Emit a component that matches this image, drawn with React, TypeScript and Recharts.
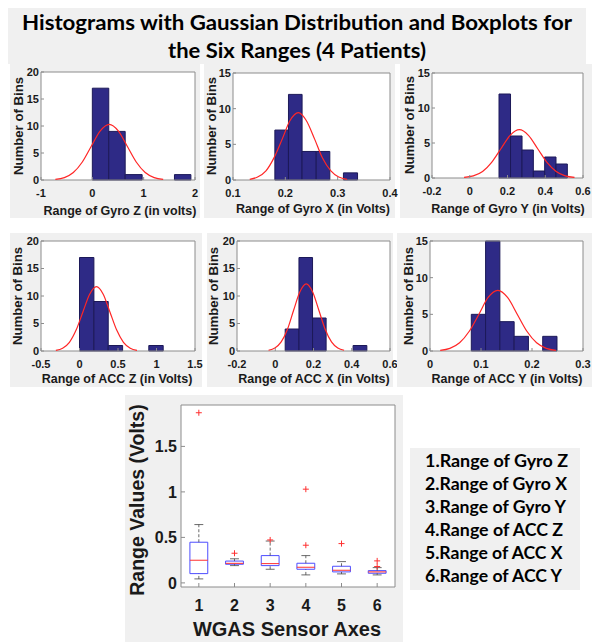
import React from 'react';
import { ComposedChart, Line, Scatter, XAxis, YAxis, ReferenceArea, ReferenceLine } from 'recharts';

// histogram bins (lo edge, hi edge, count), only non-empty bins
const gyroZLo = [0, 0.32, 0.64, 1.6];
const gyroZHi = [0.32, 0.64, 0.97, 1.92];
const gyroZCounts = [17, 9, 1, 1];
const gyroZFitX = [-0.72, -0.545, -0.37, -0.195, -0.02, 0.155, 0.33, 0.505, 0.68, 0.855, 1.03, 1.205, 1.38];
const gyroZFitY = [0.11, 0.45, 1.39, 3.34, 6.25, 9.09, 10.3, 9.09, 6.25, 3.34, 1.39, 0.45, 0.11];

const gyroXLo = [0.18, 0.206, 0.232, 0.259, 0.311];
const gyroXHi = [0.206, 0.232, 0.259, 0.285, 0.338];
const gyroXCounts = [7, 12, 4, 4, 1];
const gyroXFitX = [0.132, 0.147, 0.163, 0.178, 0.194, 0.209, 0.225, 0.24, 0.256, 0.271, 0.287, 0.302, 0.318];
const gyroXFitY = [0.1, 0.41, 1.28, 3.07, 5.73, 8.34, 9.45, 8.34, 5.73, 3.07, 1.28, 0.41, 0.1];

const gyroYLo = [0.155, 0.216, 0.277, 0.337, 0.397, 0.457];
const gyroYHi = [0.216, 0.277, 0.337, 0.397, 0.457, 0.517];
const gyroYCounts = [12, 6, 4, 1, 3, 2];
const gyroYFitX = [-0.03, 0.019, 0.068, 0.116, 0.165, 0.214, 0.263, 0.311, 0.36, 0.409, 0.458, 0.506, 0.555];
const gyroYFitY = [0.08, 0.3, 0.93, 2.24, 4.18, 6.09, 6.9, 6.09, 4.18, 2.24, 0.93, 0.3, 0.08];

const accZLo = [0, 0.187, 0.373, 0.9];
const accZHi = [0.187, 0.373, 0.56, 1.087];
const accZCounts = [17, 9, 1, 1];
const accZFitX = [-0.307, -0.219, -0.131, -0.044, 0.044, 0.132, 0.22, 0.308, 0.395, 0.483, 0.571, 0.659, 0.747];
const accZFitY = [0.13, 0.51, 1.58, 3.8, 7.1, 10.33, 11.7, 10.33, 7.1, 3.8, 1.58, 0.51, 0.13];

const accXLo = [0.052, 0.124, 0.195, 0.407];
const accXHi = [0.124, 0.195, 0.266, 0.479];
const accXCounts = [4, 17, 6, 1];
const accXFitX = [-0.035, -0.002, 0.031, 0.064, 0.096, 0.129, 0.162, 0.195, 0.228, 0.261, 0.294, 0.327, 0.36];
const accXFitY = [0.14, 0.54, 1.65, 3.96, 7.4, 10.77, 12.2, 10.77, 7.4, 3.96, 1.65, 0.54, 0.14];

const accYLo = [0.081, 0.109, 0.137, 0.165, 0.221];
const accYHi = [0.109, 0.137, 0.165, 0.193, 0.249];
const accYCounts = [5, 15, 4, 2, 2];
const accYFitX = [0.02, 0.039, 0.058, 0.077, 0.096, 0.114, 0.133, 0.152, 0.171, 0.19, 0.209, 0.228, 0.247];
const accYFitY = [0.09, 0.36, 1.12, 2.69, 5.02, 7.3, 8.27, 7.3, 5.02, 2.69, 1.12, 0.36, 0.09];

// boxplot stats per sensor axis
const boxCats = [1, 2, 3, 4, 5, 6];
const whiskerLo = [0.044, 0.19, 0.15, 0.088, 0.099, 0.088];
const q1 = [0.102, 0.205, 0.19, 0.15, 0.121, 0.106];
const median = [0.249, 0.215, 0.212, 0.172, 0.139, 0.121];
const q3 = [0.447, 0.24, 0.3, 0.216, 0.183, 0.135];
const whiskerHi = [0.641, 0.265, 0.46, 0.3, 0.234, 0.168];
const outlierX = [1, 2, 3, 4, 4, 5, 6, 6];
const outlierY = [1.87, 0.326, 0.472, 0.414, 1.03, 0.432, 0.18, 0.242];

const legendItems = [
  '1.Range of Gyro Z',
  '2.Range of Gyro X',
  '3.Range of Gyro Y',
  '4.Range of ACC Z',
  '5.Range of ACC X',
  '6.Range of ACC Y',
];

const GRAY = '#f0f0f0';
const FRAME = '#8c8c8c';
const INK = '#1a1a1a';
const AXFONT = 'Liberation Sans, Arial, sans-serif';
const TITLEFONT = 'Lato, "Open Sans", sans-serif';
const SPILL = 12; // room for tick labels that run past the grey panel

const panels = [
  { lo: gyroZLo, hi: gyroZHi, counts: gyroZCounts, fx: gyroZFitX, fy: gyroZFitY, xDomain: [-1, 2], xTicks: [-1, 0, 1, 2], yMax: 20, yTicks: [0, 5, 10, 15, 20],
    box: { left: 10, top: 64, w: 190, h: 154 }, plot: { left: 41, top: 72, right: 195, bottom: 180 },
    xLabel: 'Range of Gyro Z (in volts)', xl: [120, 215], yl: [18, 126] },
  { lo: gyroXLo, hi: gyroXHi, counts: gyroXCounts, fx: gyroXFitX, fy: gyroXFitY, xDomain: [0.1, 0.4], xTicks: [0.1, 0.2, 0.3, 0.4], yMax: 15, yTicks: [0, 5, 10, 15],
    box: { left: 204, top: 64, w: 191, h: 154 }, plot: { left: 233, top: 73, right: 390, bottom: 180 },
    xLabel: 'Range of Gyro X (in Volts)', xl: [313, 213], yl: [211, 126] },
  { lo: gyroYLo, hi: gyroYHi, counts: gyroYCounts, fx: gyroYFitX, fy: gyroYFitY, xDomain: [-0.2, 0.6], xTicks: [-0.2, 0, 0.2, 0.4, 0.6], yMax: 15, yTicks: [0, 5, 10, 15],
    box: { left: 400, top: 64, w: 192, h: 154 }, plot: { left: 432, top: 73, right: 583, bottom: 178 },
    xLabel: 'Range of Gyro Y (in Volts)', xl: [508, 213], yl: [409, 125] },
  { lo: accZLo, hi: accZHi, counts: accZCounts, fx: accZFitX, fy: accZFitY, xDomain: [-0.5, 1.5], xTicks: [-0.5, 0, 0.5, 1, 1.5], yMax: 20, yTicks: [0, 5, 10, 15, 20],
    box: { left: 10, top: 233, w: 192, h: 154 }, plot: { left: 41, top: 241, right: 195, bottom: 351 },
    xLabel: 'Range of ACC Z (in Volts)', xl: [117, 383], yl: [17, 296] },
  { lo: accXLo, hi: accXHi, counts: accXCounts, fx: accXFitX, fy: accXFitY, xDomain: [-0.2, 0.6], xTicks: [-0.2, 0, 0.2, 0.4, 0.6], yMax: 20, yTicks: [0, 5, 10, 15, 20],
    box: { left: 207, top: 233, w: 186, h: 154 }, plot: { left: 237, top: 241, right: 390, bottom: 351 },
    xLabel: 'Range of ACC X (in Volts)', xl: [314, 383], yl: [213, 296] },
  { lo: accYLo, hi: accYHi, counts: accYCounts, fx: accYFitX, fy: accYFitY, xDomain: [0, 0.3], xTicks: [0, 0.1, 0.2, 0.3], yMax: 15, yTicks: [0, 5, 10, 15],
    box: { left: 397, top: 233, w: 195, h: 154 }, plot: { left: 430, top: 241, right: 583, bottom: 351 },
    xLabel: 'Range of ACC Y (in Volts)', xl: [507, 383], yl: [408, 296] },
];

const tickStyle = { fill: INK, fontSize: 11, fontWeight: 700, fontFamily: AXFONT };

function Histogram({ p }: { p: any }) {
  const { box, plot } = p;
  const fit = p.fx.map((x: number, i: number) => ({ x, y: p.fy[i] }));
  const margin = { top: plot.top - box.top, right: box.left + box.w - plot.right + SPILL, bottom: 0, left: 0 };
  return (
    <div style={{ position: 'absolute', left: box.left, top: box.top, width: box.w, height: box.h, background: GRAY, overflow: 'visible' }}>
      <ComposedChart width={box.w + SPILL} height={box.h} data={fit} margin={margin}>
        <XAxis type="number" dataKey="x" domain={p.xDomain} ticks={p.xTicks} allowDataOverflow interval={0}
          height={box.top + box.h - plot.bottom} axisLine={false} tickSize={-3} tickMargin={12}
          tickLine={{ stroke: FRAME }} tick={tickStyle} />
        <XAxis xAxisId="top" orientation="top" type="number" domain={p.xDomain} ticks={p.xTicks} allowDataOverflow interval={0}
          height={0} axisLine={false} tickSize={-3} tickLine={{ stroke: FRAME }} tick={false} />
        <YAxis type="number" domain={[0, p.yMax]} ticks={p.yTicks} allowDataOverflow interval={0}
          width={plot.left - box.left} axisLine={false} tickSize={-3} tickMargin={5}
          tickLine={{ stroke: FRAME }} tick={tickStyle} />
        <YAxis yAxisId="right" orientation="right" type="number" domain={[0, p.yMax]} ticks={p.yTicks} allowDataOverflow interval={0}
          width={0} axisLine={false} tickSize={-3} tickLine={{ stroke: FRAME }} tick={false} />
        <ReferenceArea x1={p.xDomain[0]} x2={p.xDomain[1]} y1={0} y2={p.yMax} fill="#ffffff" fillOpacity={1} stroke="none" ifOverflow="visible" />
        {p.lo.map((lo: number, i: number) => (
          <ReferenceArea key={i} x1={lo} x2={p.hi[i]} y1={0} y2={p.counts[i]} fill="#2e2a86" fillOpacity={1}
            stroke="#1c1958" strokeWidth={1} />
        ))}
        <Line type="monotone" dataKey="y" stroke="#ff2626" strokeWidth={1.2} dot={false} isAnimationActive={false} />
        <ReferenceArea x1={p.xDomain[0]} x2={p.xDomain[1]} y1={0} y2={p.yMax} fill="none" stroke={FRAME} strokeWidth={1} ifOverflow="visible" />
      </ComposedChart>
    </div>
  );
}

const PlusMark = (props: any) => {
  const { cx, cy } = props;
  return <path d={`M${cx - 3},${cy}H${cx + 3}M${cx},${cy - 3}V${cy + 3}`} stroke="#ff3030" strokeWidth={1} fill="none" />;
};

function BoxPlot() {
  const box = { left: 125, top: 395, w: 278, h: 247 };
  const plot = { left: 181, top: 405, right: 395, bottom: 587 };
  const yDomain = [-0.045, 1.955];
  const outliers = outlierX.map((x, i) => ({ x, y: outlierY[i] }));
  const bigTick = { fill: INK, fontSize: 16, fontWeight: 700, fontFamily: AXFONT };
  return (
    <div style={{ position: 'absolute', left: box.left, top: box.top, width: box.w, height: box.h, background: GRAY }}>
      <ComposedChart width={box.w} height={box.h} data={outliers}
        margin={{ top: plot.top - box.top, right: box.left + box.w - plot.right, bottom: 0, left: 0 }}>
        <XAxis type="number" dataKey="x" domain={[0.5, 6.5]} ticks={boxCats} allowDataOverflow interval={0}
          height={box.top + box.h - plot.bottom} axisLine={false} tickSize={-4} tickMargin={17}
          tickLine={{ stroke: FRAME }} tick={bigTick} />
        <XAxis xAxisId="top" orientation="top" type="number" domain={[0.5, 6.5]} ticks={boxCats} allowDataOverflow interval={0}
          height={0} axisLine={false} tickSize={-4} tickLine={{ stroke: FRAME }} tick={false} />
        <YAxis type="number" dataKey="y" domain={yDomain} ticks={[0, 0.5, 1, 1.5]} allowDataOverflow interval={0}
          width={plot.left - box.left} axisLine={false} tickSize={-4} tickMargin={8}
          tickLine={{ stroke: FRAME }} tick={bigTick} />
        <YAxis yAxisId="right" orientation="right" type="number" domain={yDomain} ticks={[0, 0.5, 1, 1.5]} allowDataOverflow interval={0}
          width={0} axisLine={false} tickSize={-4} tickLine={{ stroke: FRAME }} tick={false} />
        <ReferenceArea x1={0.5} x2={6.5} y1={yDomain[0]} y2={yDomain[1]} fill="#ffffff" fillOpacity={1} stroke="none" ifOverflow="visible" />
        {boxCats.map((c, i) => (
          <React.Fragment key={c}>
            <ReferenceLine segment={[{ x: c, y: q3[i] }, { x: c, y: whiskerHi[i] }]} stroke="#444" strokeDasharray="3 2" strokeWidth={0.8} />
            <ReferenceLine segment={[{ x: c, y: whiskerLo[i] }, { x: c, y: q1[i] }]} stroke="#444" strokeDasharray="3 2" strokeWidth={0.8} />
            <ReferenceLine segment={[{ x: c - 0.125, y: whiskerHi[i] }, { x: c + 0.125, y: whiskerHi[i] }]} stroke="#444" strokeWidth={0.8} />
            <ReferenceLine segment={[{ x: c - 0.125, y: whiskerLo[i] }, { x: c + 0.125, y: whiskerLo[i] }]} stroke="#444" strokeWidth={0.8} />
          </React.Fragment>
        ))}
        {boxCats.map((c, i) => (
          <ReferenceArea key={`b${c}`} x1={c - 0.25} x2={c + 0.25} y1={q1[i]} y2={q3[i]} fill="none" stroke="#4d4dff" strokeWidth={1} />
        ))}
        {boxCats.map((c, i) => (
          <ReferenceLine key={`m${c}`} segment={[{ x: c - 0.25, y: median[i] }, { x: c + 0.25, y: median[i] }]} stroke="#ff3030" strokeWidth={1} />
        ))}
        <Scatter dataKey="y" shape={<PlusMark />} isAnimationActive={false} />
        <ReferenceArea x1={0.5} x2={6.5} y1={yDomain[0]} y2={yDomain[1]} fill="none" stroke={FRAME} strokeWidth={1} ifOverflow="visible" />
      </ComposedChart>
    </div>
  );
}

export default function App() {
  return (
    <div style={{ position: 'absolute', left: 0, top: 0, width: 594, height: 642, background: '#ffffff', overflow: 'hidden' }}>
      <div style={{ position: 'absolute', left: 8, top: 8, width: 578, height: 56, background: GRAY }} />
      {panels.map((p, i) => <Histogram key={i} p={p} />)}
      <BoxPlot />
      <div style={{ position: 'absolute', left: 410, top: 448, width: 170, height: 142, background: GRAY }} />
      <svg width={594} height={642} style={{ position: 'absolute', left: 0, top: 0, pointerEvents: 'none' }}>
        <text x={297} y={30} textAnchor="middle" fontFamily={TITLEFONT} fontWeight={700} fontSize={20} fill="#000"
          textLength={550} lengthAdjust="spacingAndGlyphs">Histograms with Gaussian Distribution and Boxplots for</text>
        <text x={297} y={58} textAnchor="middle" fontFamily={TITLEFONT} fontWeight={700} fontSize={20} fill="#000"
          textLength={258} lengthAdjust="spacingAndGlyphs">the Six Ranges (4 Patients)</text>
        {panels.map((p, i) => (
          <g key={i} fontFamily={AXFONT} fontWeight={700} fontSize={12.5} fill={INK}>
            <text x={p.xl[0]} y={p.xl[1]} textAnchor="middle">{p.xLabel}</text>
            <text x={p.yl[0]} y={p.yl[1]} textAnchor="middle" dominantBaseline="central" fontSize={13.2}
              transform={`rotate(-90 ${p.yl[0]} ${p.yl[1]})`}>Number of Bins</text>
          </g>
        ))}
        <text x={137} y={500} textAnchor="middle" dominantBaseline="central" fontFamily={AXFONT} fontWeight={700} fontSize={19.5}
          fill={INK} transform="rotate(-90 137 500)">Range Values (Volts)</text>
        <text x={287} y={636} textAnchor="middle" fontFamily={AXFONT} fontWeight={700} fontSize={20} fill={INK}>WGAS Sensor Axes</text>
        {legendItems.map((t, i) => (
          <text key={t} x={425} y={467 + i * 23} fontFamily={TITLEFONT} fontWeight={700} fontSize={16.5} fill="#000"
            textLength={i < 3 ? 143 - i : 138 - (i - 3) * 0.5} lengthAdjust="spacingAndGlyphs">{t}</text>
        ))}
      </svg>
    </div>
  );
}
